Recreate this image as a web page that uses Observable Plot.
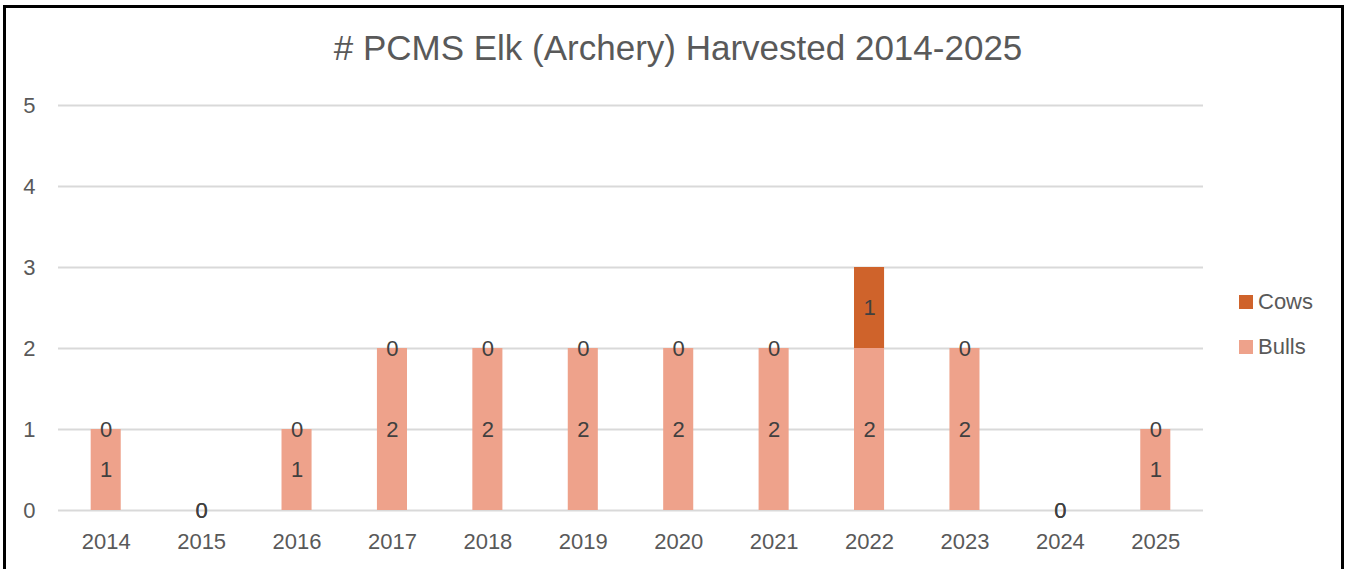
<!DOCTYPE html>
<html>
<head>
<meta charset="utf-8">
<script src="https://cdn.jsdelivr.net/npm/d3@7"></script>
<script src="https://cdn.jsdelivr.net/npm/@observablehq/plot@0.6"></script>
<style>
  html, body { margin: 0; padding: 0; background: #fff; }
  body { width: 1350px; height: 569px; overflow: hidden; position: relative; font-family: "Liberation Sans", Arial, sans-serif; }
  #frame { position: absolute; left: 3px; top: 5px; width: 1341px; height: 620px; border: 3px solid #000; box-sizing: border-box; pointer-events: none; }
  #title { position: absolute; left: 0; width: 1356px; top: 28px; text-align: center; font-size: 35px; color: #595959; line-height: 40px; white-space: nowrap; }
  #chart { position: absolute; left: 0; top: 0; }
  .leg { position: absolute; left: 1239px; font-size: 22px; color: #595959; line-height: 24px; display: flex; align-items: center; }
  .leg span.sw { display: inline-block; width: 14px; height: 14px; margin-right: 5px; }
</style>
</head>
<body>
<div id="chart"></div>
<div id="title"># PCMS Elk (Archery) Harvested 2014-2025</div>
<div id="legend"></div>
<div id="frame"></div>
<script>
const years = ["2014","2015","2016","2017","2018","2019","2020","2021","2022","2023","2024","2025"];
const bulls = [1, 0, 1, 2, 2, 2, 2, 2, 2, 2, 0, 1];
const cows  = [0, 0, 0, 0, 0, 0, 0, 0, 1, 0, 0, 0];
const series = ["Bulls", "Cows"];
const colors = ["#EEA28B", "#CF632B"];
const yTicks = [0, 1, 2, 3, 4, 5];

const rows = [];
years.forEach((yr, i) => {
  rows.push({year: yr, sex: "Bulls", value: bulls[i]});
  rows.push({year: yr, sex: "Cows", value: cows[i]});
});

const chart = Plot.plot({
  width: 1350,
  height: 569,
  marginLeft: 58,
  marginRight: 147,
  marginTop: 105,
  marginBottom: 59,
  style: {fontFamily: '"Liberation Sans", Arial, sans-serif', color: "#595959", background: "transparent"},
  x: {domain: years, paddingInner: 0.685, paddingOuter: 0.3425, round: false, label: null},
  y: {domain: [0, 5], label: null},
  color: {domain: series, range: colors},
  marks: [
    Plot.ruleY(yTicks, {stroke: "#D9D9D9", strokeWidth: 2}),
    Plot.barY(rows, Plot.stackY({x: "year", y: "value", fill: "sex", z: "sex"})),
    Plot.text(rows, Plot.stackY({x: "year", y: "value", z: "sex", text: d => String(d.value), fill: "#404040", fontSize: 22})),
    Plot.axisY({ticks: yTicks, tickFormat: "d", tickSize: 0, tickPadding: 23, fontSize: 22, label: null}),
    Plot.axisX({tickSize: 0, tickPadding: 23, fontSize: 22, label: null})
  ]
});
document.getElementById("chart").appendChild(chart);

const legend = document.getElementById("legend");
const legItems = [["Cows", colors[1], 290], ["Bulls", colors[0], 335]];
legItems.forEach(([name, c, top]) => {
  const d = document.createElement("div");
  d.className = "leg";
  d.style.top = top + "px";
  d.innerHTML = `<span class="sw" style="background:${c}"></span><span>${name}</span>`;
  legend.appendChild(d);
});
</script>
</body>
</html>
